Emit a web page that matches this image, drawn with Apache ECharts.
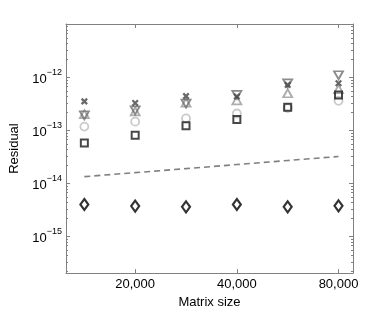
<!DOCTYPE html>
<html><head><meta charset="utf-8">
<script src="https://cdn.jsdelivr.net/npm/echarts@6/dist/echarts.min.js"></script>
<style>html,body{margin:0;padding:0;background:#fff}#c{width:390px;height:314px}</style>
</head><body><div id="c"></div>
<script>
// x positions: equally spaced steps (log-scaled matrix sizes)
const steps = [1, 2, 3, 4, 5, 6];
const tickSteps = [2, 4, 6];
const tickLabels = ['20,000', '40,000', '80,000'];
const seriesCross = [3.47e-13, 3.23e-13, 4.36e-13, 4.3e-13, 7.1e-13, 7.6e-13];
const seriesTriDown = [1.9e-13, 2.35e-13, 3.15e-13, 4.6e-13, 7.6e-13, 1.08e-12];
const seriesTriUp = [2.0e-13, 2.25e-13, 3.3e-13, 3.62e-13, 4.94e-13, 5.9e-13];
const seriesCircle = [1.16e-13, 1.44e-13, 1.66e-13, 2.05e-13, 2.6e-13, 3.56e-13];
const seriesSquare = [5.7e-14, 8.0e-14, 1.21e-13, 1.58e-13, 2.69e-13, 4.6e-13];
const seriesDiamond = [3.94e-15, 3.67e-15, 3.56e-15, 3.94e-15, 3.56e-15, 3.72e-15];
const seriesDashed = [1.32e-14, 1.57e-14, 1.87e-14, 2.23e-14, 2.66e-14, 3.17e-14];

const pairs = arr => steps.map((s, i) => [s, arr[i]]);
const axisCol = '#808080';
const font = 'Liberation Sans, Arial, Helvetica, sans-serif';
const xMin = 0.639, xMax = 6.285;

function hollow(col, w) {
  return { color: 'rgba(0,0,0,0)', borderColor: col, borderWidth: w };
}

const chart = echarts.init(document.getElementById('c'));
chart.setOption({
  animation: false,
  backgroundColor: '#fff',
  grid: { left: 56, right: 37, top: 24, bottom: 35 },
  xAxis: [{
    type: 'value', min: xMin, max: xMax, position: 'bottom',
    name: 'Matrix size', nameLocation: 'middle', nameGap: 20,
    nameTextStyle: { fontFamily: font, fontSize: 13, color: '#000' },
    axisLine: { show: true, lineStyle: { color: axisCol, width: 1 } },
    axisTick: { show: true, inside: true, length: 4, customValues: tickSteps, lineStyle: { color: axisCol } },
    axisLabel: {
      customValues: tickSteps, margin: 5, fontFamily: font, fontSize: 13, color: '#000',
      formatter: v => tickLabels[tickSteps.indexOf(Math.round(v))] || ''
    },
    splitLine: { show: false }
  }, {
    type: 'value', min: xMin, max: xMax, position: 'top',
    axisLine: { show: true, lineStyle: { color: axisCol, width: 1 } },
    axisTick: { show: true, inside: true, length: 4, customValues: tickSteps, lineStyle: { color: axisCol } },
    axisLabel: { show: false },
    splitLine: { show: false }
  }],
  yAxis: [{
    type: 'log', logBase: 10, min: 2e-16, max: 1e-11, position: 'left',
    name: 'Residual', nameLocation: 'middle', nameGap: 45,
    nameTextStyle: { fontFamily: font, fontSize: 13, color: '#000' },
    axisLine: { show: true, lineStyle: { color: axisCol, width: 1 } },
    axisTick: { show: true, inside: true, length: 4, lineStyle: { color: axisCol } },
    minorTick: { show: true, splitNumber: 8, length: 2, lineStyle: { color: axisCol } },
    axisLabel: {
      showMinLabel: false, showMaxLabel: false, margin: 4,
      formatter: v => {
        const e = Math.round(Math.log10(v));
        if (e > -12 || e < -15) return '';
        return '{b|10}{s|\u2212' + Math.abs(e) + '}';
      },
      rich: {
        b: { fontFamily: font, fontSize: 13, color: '#000', lineHeight: 18, verticalAlign: 'bottom' },
        s: { fontFamily: font, fontSize: 9, color: '#000', lineHeight: 9, verticalAlign: 'top' }
      }
    },
    splitLine: { show: false }
  }, {
    type: 'log', logBase: 10, min: 2e-16, max: 1e-11, position: 'right',
    axisLine: { show: true, lineStyle: { color: axisCol, width: 1 } },
    axisTick: { show: true, inside: true, length: 4, lineStyle: { color: axisCol } },
    minorTick: { show: true, splitNumber: 8, length: 2, lineStyle: { color: axisCol } },
    axisLabel: { show: false },
    splitLine: { show: false }
  }],
  series: [
    { type: 'line', data: pairs(seriesDashed), showSymbol: false, symbol: 'none',
      lineStyle: { color: '#808080', width: 1.6, type: [6, 4] }, z: 1 },
    { type: 'scatter', data: pairs(seriesDiamond), symbol: 'diamond', symbolSize: [8, 11],
      itemStyle: hollow('#000', 2.2), z: 2 },
    { type: 'scatter', data: pairs(seriesCircle), symbol: 'circle', symbolSize: 8,
      itemStyle: hollow('#bdbdbd', 1.8), z: 3 },
    { type: 'scatter', data: pairs(seriesTriUp), symbol: 'triangle', symbolSize: [9, 8],
      itemStyle: hollow('#999', 1.8), z: 4 },
    { type: 'scatter', data: pairs(seriesTriDown), symbol: 'triangle', symbolRotate: 180, symbolSize: [9, 8],
      itemStyle: hollow('#6e6e6e', 1.8), z: 5 },
    { type: 'scatter', data: pairs(seriesCross), symbol: 'path://M0,0L10,10M10,0L0,10', symbolSize: 5.5,
      itemStyle: hollow('#444', 2.2), z: 6 },
    { type: 'scatter', data: pairs(seriesSquare), symbol: 'rect', symbolSize: 7,
      itemStyle: hollow('#1a1a1a', 2), z: 7 }
  ]
});
</script></body></html>
